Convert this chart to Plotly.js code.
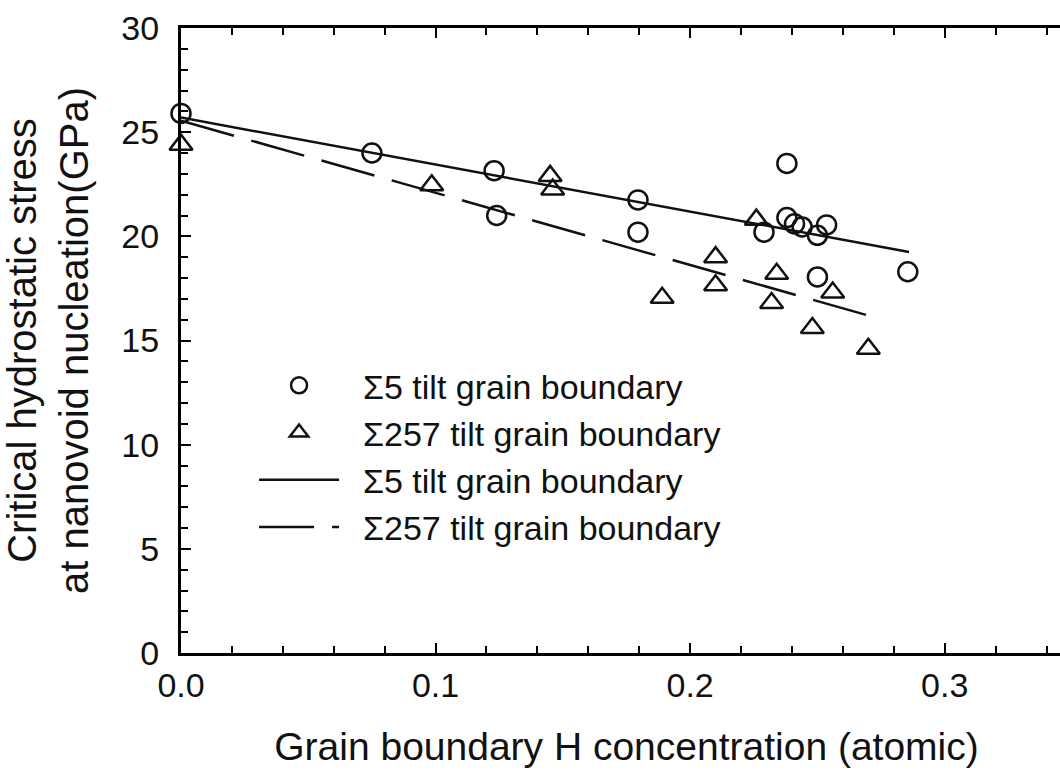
<!DOCTYPE html>
<html>
<head>
<meta charset="utf-8">
<script src="https://cdn.plot.ly/plotly-3.0.1.min.js"></script>
<style>
  html, body { margin: 0; padding: 0; background: #fff; overflow: hidden; }
  #chart { width: 1080px; height: 781px; }
</style>
</head>
<body>
<div id="chart"></div>
<script>
// Σ5 tilt grain boundary — data points
const s5X = [0, 0.075, 0.123, 0.124, 0.1795, 0.1795, 0.229, 0.238, 0.238, 0.241, 0.244, 0.250, 0.2536, 0.250, 0.2855];
const s5Y = [25.9, 24.0, 23.15, 21.0, 21.75, 20.2, 20.2, 23.5, 20.9, 20.6, 20.45, 20.05, 20.55, 18.05, 18.3];

// Σ257 tilt grain boundary — data points
const s257X = [0, 0.0985, 0.145, 0.146, 0.189, 0.210, 0.210, 0.226, 0.234, 0.232, 0.256, 0.248, 0.270];
const s257Y = [24.4, 22.45, 22.9, 22.25, 17.05, 19.0, 17.65, 20.8, 18.2, 16.8, 17.3, 15.6, 14.6];

// Linear trend lines (end points)
const s5FitX = [0, 0.286];
const s5FitY = [25.7, 19.25];
const s257FitX = [0, 0.270];
const s257FitY = [25.55, 16.2];

const legendNames = [
  "\u03A35 tilt grain boundary",
  "\u03A3257 tilt grain boundary",
  "\u03A35 tilt grain boundary",
  "\u03A3257 tilt grain boundary"
];

const xTitle = "Grain boundary H concentration (atomic)";
const yTitle = "Critical hydrostatic stress<br>at nanovoid nucleation(GPa)";

const FONT = "Liberation Sans, Arial, sans-serif";
const INK = "#111111";
const PAD = "\u00A0\u00A0";

const traces = [
  {
    x: s5X, y: s5Y, type: "scatter", mode: "markers", name: PAD + legendNames[0],
    marker: { symbol: "circle-open", size: 19, color: INK, line: { width: 2.5, color: INK } },
    cliponaxis: false
  },
  {
    x: s257X, y: s257Y, type: "scatter", mode: "markers", name: PAD + legendNames[1],
    marker: { symbol: "triangle-up-open", size: 20, color: INK, line: { width: 2.5, color: INK } },
    cliponaxis: false
  },
  {
    x: s5FitX, y: s5FitY, type: "scatter", mode: "lines", name: PAD + legendNames[2],
    line: { color: INK, width: 2.5, dash: "solid" },
    cliponaxis: false
  },
  {
    x: s257FitX, y: s257FitY, type: "scatter", mode: "lines", name: PAD + legendNames[3],
    line: { color: INK, width: 2.5, dash: "55px,18px" },
    cliponaxis: false
  }
];

const axisCommon = {
  showline: true, linecolor: "#000", linewidth: 3, mirror: "allticks",
  ticks: "inside", ticklen: 10, tickwidth: 2, tickcolor: "#000",
  showgrid: false, zeroline: false,
  tickfont: { family: FONT, size: 34, color: INK }
};

const layout = {
  width: 1080, height: 781,
  paper_bgcolor: "#fff", plot_bgcolor: "#fff",
  margin: { l: 181, r: 8, t: 28, b: 128 },
  font: { family: FONT, color: INK },
  showlegend: true,
  legend: {
    x: 0.082, y: 0.474, xanchor: "left", yanchor: "top",
    bgcolor: "rgba(0,0,0,0)", borderwidth: 0,
    font: { family: FONT, size: 34, color: INK },
    itemwidth: 80, traceorder: "normal"
  },
  xaxis: Object.assign({}, axisCommon, {
    range: [0, 0.35], tick0: 0, dtick: 0.1, tickformat: ".1f",
    minor: { dtick: 0.02, ticks: "inside", ticklen: 7, tickwidth: 2, tickcolor: "#000" },
    title: { text: xTitle, font: { family: FONT, size: 39, color: INK }, standoff: 30 }
  }),
  yaxis: Object.assign({}, axisCommon, {
    range: [0, 30], tick0: 0, dtick: 5,
    minor: { dtick: 1, ticks: "inside", ticklen: 7, tickwidth: 2, tickcolor: "#000" },
    ticklabelstandoff: 12,
    title: { text: yTitle, font: { family: FONT, size: 40, color: INK }, standoff: 24 }
  })
};

Plotly.newPlot("chart", traces, layout, { displayModeBar: false, staticPlot: true });
</script>
</body>
</html>
